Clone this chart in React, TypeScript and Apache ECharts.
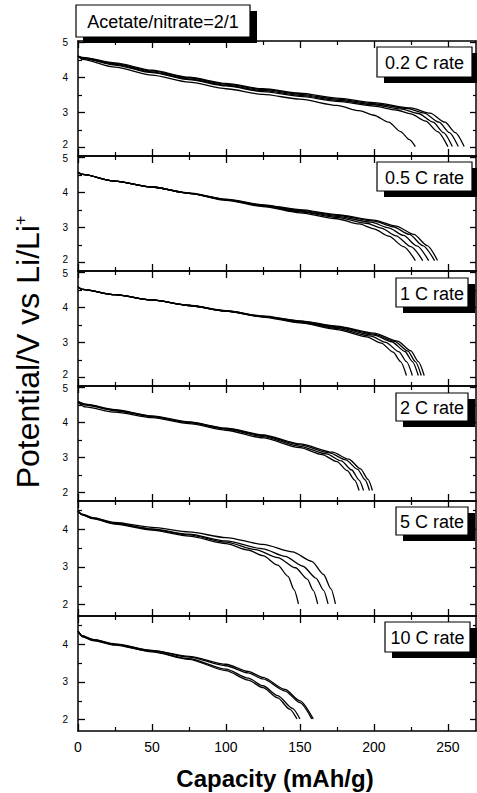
import { useEffect, useRef } from 'react';
import * as echarts from 'echarts';

// ---- tick values ----
const xMajor = [0, 50, 100, 150, 200, 250];
const xMinor = [25, 75, 125, 175, 225];
const yMajorHigh = [2, 3, 4, 5];
const yMajorLow = [2, 3, 4];
const yMinor = [2.5, 3.5, 4.5];

// ---- panel labels and ranges ----
const rateLabels = ['0.2 C rate', '0.5 C rate', '1 C rate', '2 C rate', '5 C rate', '10 C rate'];
const yMins = [1.75, 1.75, 1.75, 1.75, 1.7, 1.7];
const yMaxs = [5.05, 5.05, 5.05, 5.05, 4.75, 4.75];

// ---- 0.2 C ----
const r02_1 = [[0, 4.62], [3, 4.52], [25, 4.30], [50, 4.07], [75, 3.87], [100, 3.68], [125, 3.52], [150, 3.38], [175, 3.20], [190, 3.05], [200, 2.92], [210, 2.72], [218, 2.45], [224, 2.22], [228, 2.02]];
const r02_2 = [[0, 4.62], [3, 4.55], [25, 4.36], [50, 4.14], [75, 3.94], [100, 3.76], [125, 3.60], [150, 3.46], [175, 3.32], [200, 3.18], [215, 3.07], [225, 2.96], [235, 2.75], [243, 2.45], [250, 2.02]];
const r02_3 = [[0, 4.62], [3, 4.56], [25, 4.38], [50, 4.16], [75, 3.96], [100, 3.78], [125, 3.63], [150, 3.49], [175, 3.35], [200, 3.22], [218, 3.10], [230, 2.97], [240, 2.72], [247, 2.42], [253, 2.02]];
const r02_4 = [[0, 4.62], [3, 4.57], [25, 4.40], [50, 4.19], [75, 3.99], [100, 3.81], [125, 3.66], [150, 3.52], [175, 3.38], [200, 3.25], [222, 3.12], [234, 2.98], [244, 2.72], [251, 2.42], [257, 2.02]];
const r02_5 = [[0, 4.62], [3, 4.58], [25, 4.42], [50, 4.21], [75, 4.01], [100, 3.83], [125, 3.68], [150, 3.55], [175, 3.41], [200, 3.28], [225, 3.13], [238, 2.98], [248, 2.72], [255, 2.42], [261, 2.02]];

// ---- 0.5 C ----
const r05_1 = [[0, 4.58], [3, 4.52], [25, 4.33], [50, 4.16], [75, 3.98], [100, 3.78], [125, 3.60], [150, 3.42], [175, 3.25], [190, 3.10], [200, 2.96], [210, 2.75], [220, 2.45], [228, 2.05]];
const r05_2 = [[0, 4.58], [3, 4.52], [25, 4.33], [50, 4.16], [75, 3.98], [100, 3.79], [125, 3.62], [150, 3.45], [175, 3.29], [195, 3.12], [205, 2.98], [215, 2.76], [225, 2.45], [233, 2.05]];
const r05_3 = [[0, 4.58], [3, 4.52], [25, 4.33], [50, 4.16], [75, 3.98], [100, 3.80], [125, 3.63], [150, 3.47], [175, 3.32], [198, 3.15], [210, 2.99], [220, 2.77], [229, 2.47], [237, 2.05]];
const r05_4 = [[0, 4.58], [3, 4.52], [25, 4.33], [50, 4.16], [75, 3.98], [100, 3.80], [125, 3.64], [150, 3.49], [175, 3.35], [200, 3.18], [213, 3.02], [224, 2.80], [233, 2.48], [241, 2.05]];
const r05_5 = [[0, 4.58], [3, 4.52], [25, 4.33], [50, 4.16], [75, 3.99], [100, 3.81], [125, 3.65], [150, 3.51], [175, 3.37], [200, 3.21], [215, 3.04], [227, 2.80], [236, 2.48], [243, 2.05]];

// ---- 1 C ----
const r1_1 = [[0, 4.60], [3, 4.52], [25, 4.37], [50, 4.22], [75, 4.06], [100, 3.90], [125, 3.73], [150, 3.56], [175, 3.37], [195, 3.16], [205, 2.98], [213, 2.72], [218, 2.45], [222, 2.05]];
const r1_2 = [[0, 4.60], [3, 4.52], [25, 4.37], [50, 4.22], [75, 4.06], [100, 3.90], [125, 3.74], [150, 3.58], [175, 3.40], [198, 3.18], [208, 3.00], [217, 2.73], [222, 2.45], [226, 2.05]];
const r1_3 = [[0, 4.60], [3, 4.52], [25, 4.37], [50, 4.22], [75, 4.06], [100, 3.90], [125, 3.74], [150, 3.60], [175, 3.43], [200, 3.21], [212, 3.02], [221, 2.74], [226, 2.45], [230, 2.05]];
const r1_4 = [[0, 4.60], [3, 4.52], [25, 4.37], [50, 4.22], [75, 4.06], [100, 3.91], [125, 3.75], [150, 3.61], [175, 3.45], [200, 3.24], [214, 3.03], [223, 2.75], [228, 2.45], [232, 2.05]];
const r1_5 = [[0, 4.60], [3, 4.52], [25, 4.37], [50, 4.22], [75, 4.07], [100, 3.91], [125, 3.76], [150, 3.62], [175, 3.47], [200, 3.27], [216, 3.04], [225, 2.76], [230, 2.45], [234, 2.05]];

// ---- 2 C ----
const r2_1 = [[0, 4.58], [5, 4.45], [25, 4.30], [50, 4.14], [75, 3.97], [100, 3.78], [125, 3.56], [150, 3.28], [165, 3.08], [175, 2.88], [182, 2.62], [187, 2.35], [190, 2.05]];
const r2_2 = [[0, 4.60], [5, 4.50], [25, 4.34], [50, 4.17], [75, 4.00], [100, 3.81], [125, 3.60], [150, 3.32], [168, 3.10], [178, 2.90], [185, 2.64], [190, 2.35], [193, 2.05]];
const r2_3 = [[0, 4.60], [5, 4.52], [25, 4.36], [50, 4.18], [75, 4.01], [100, 3.83], [125, 3.63], [150, 3.36], [170, 3.13], [181, 2.93], [189, 2.66], [194, 2.36], [197, 2.05]];
const r2_4 = [[0, 4.61], [5, 4.53], [25, 4.37], [50, 4.19], [75, 4.02], [100, 3.84], [125, 3.65], [150, 3.39], [172, 3.15], [183, 2.95], [191, 2.67], [196, 2.37], [199, 2.05]];

// ---- 5 C ----
const r5_1 = [[0, 4.48], [3, 4.38], [10, 4.28], [25, 4.14], [50, 3.98], [75, 3.82], [100, 3.62], [115, 3.45], [125, 3.30], [135, 3.05], [142, 2.75], [146, 2.40], [149, 2.02]];
const r5_2 = [[0, 4.48], [3, 4.38], [10, 4.29], [25, 4.15], [50, 4.00], [75, 3.85], [100, 3.66], [120, 3.46], [135, 3.25], [147, 2.98], [155, 2.68], [159, 2.38], [162, 2.02]];
const r5_3 = [[0, 4.48], [3, 4.39], [10, 4.30], [25, 4.16], [50, 4.01], [75, 3.87], [100, 3.69], [125, 3.48], [140, 3.28], [152, 3.02], [161, 2.70], [166, 2.38], [169, 2.02]];
const r5_4 = [[0, 4.48], [3, 4.40], [10, 4.31], [25, 4.18], [50, 4.05], [75, 3.93], [100, 3.78], [125, 3.60], [145, 3.40], [158, 3.15], [166, 2.80], [171, 2.42], [174, 2.02]];

// ---- 10 C ----
const r10_1 = [[0, 4.35], [3, 4.20], [10, 4.10], [25, 3.98], [50, 3.80], [75, 3.60], [100, 3.30], [115, 3.05], [125, 2.85], [135, 2.58], [143, 2.28], [148, 2.02]];
const r10_2 = [[0, 4.35], [3, 4.21], [10, 4.11], [25, 3.99], [50, 3.81], [75, 3.62], [100, 3.34], [115, 3.10], [125, 2.90], [135, 2.64], [145, 2.30], [150, 2.02]];
const r10_3 = [[0, 4.35], [3, 4.22], [10, 4.12], [25, 4.00], [50, 3.83], [75, 3.66], [100, 3.43], [115, 3.24], [125, 3.08], [140, 2.76], [150, 2.45], [158, 2.02]];
const r10_4 = [[0, 4.35], [3, 4.23], [10, 4.13], [25, 4.01], [50, 3.84], [75, 3.68], [100, 3.47], [115, 3.28], [125, 3.12], [140, 2.80], [150, 2.50], [159, 2.02]];

const panelCurves = [
  [r02_1, r02_2, r02_3, r02_4, r02_5],
  [r05_1, r05_2, r05_3, r05_4, r05_5],
  [r1_1, r1_2, r1_3, r1_4, r1_5],
  [r2_1, r2_2, r2_3, r2_4],
  [r5_1, r5_2, r5_3, r5_4],
  [r10_1, r10_2, r10_3, r10_4],
];

const FONT = '"Liberation Sans", Arial, sans-serif';

export default function App() {
  const ref = useRef<HTMLDivElement>(null);

  useEffect(() => {
    if (!ref.current) return;
    const chart = echarts.init(ref.current, null, { renderer: 'svg' });

    const gridTop = 41;
    const gridH = 115;
    const gridLeft = 78;
    const gridRight = 1;
    const axisLineStyle = { color: '#000', width: 1.5 };

    const grids: any[] = [];
    const xAxes: any[] = [];
    const yAxes: any[] = [];
    const series: any[] = [];

    for (let i = 0; i < 6; i++) {
      grids.push({
        left: gridLeft,
        right: gridRight,
        top: gridTop + i * gridH,
        height: gridH,
        containLabel: false,
        outerBoundsMode: 'none',
      });
      const isBottom = i === 5;
      const xBase = {
        gridIndex: i,
        type: 'value',
        min: 0,
        max: 269,
        splitLine: { show: false },
      };
      xAxes.push({
        ...xBase,
        position: 'bottom',
        axisLine: { show: true, onZero: false, lineStyle: axisLineStyle },
        axisTick: { show: true, inside: true, length: 7, customValues: xMajor, lineStyle: { color: '#000', width: 1.3 } },
        axisLabel: {
          show: isBottom,
          customValues: xMajor,
          color: '#000',
          fontSize: 14,
          fontFamily: FONT,
          margin: 9,
        },
      });
      xAxes.push({
        ...xBase,
        position: 'bottom',
        axisLine: { show: false, onZero: false },
        axisTick: { show: true, inside: true, length: 4, customValues: xMinor, lineStyle: { color: '#000', width: 1.2 } },
        axisLabel: { show: false },
      });
      xAxes.push({
        ...xBase,
        position: 'top',
        axisLine: { show: true, onZero: false, lineStyle: axisLineStyle },
        axisTick: { show: true, inside: true, length: 7, customValues: xMajor, lineStyle: { color: '#000', width: 1.3 } },
        axisLabel: { show: false },
      });
      xAxes.push({
        ...xBase,
        position: 'top',
        axisLine: { show: false, onZero: false },
        axisTick: { show: true, inside: true, length: 4, customValues: xMinor, lineStyle: { color: '#000', width: 1.2 } },
        axisLabel: { show: false },
      });

      const yBase = {
        gridIndex: i,
        type: 'value',
        min: yMins[i],
        max: yMaxs[i],
        splitLine: { show: false },
      };
      const majors = i < 4 ? yMajorHigh : yMajorLow;
      const hasPanelBelowWith5 = i < 3;
      const hasPanelAbove = i > 0;
      yAxes.push({
        ...yBase,
        position: 'left',
        axisLine: { show: true, onZero: false, lineStyle: axisLineStyle },
        axisTick: { show: true, inside: true, length: 7, customValues: majors, lineStyle: { color: '#000', width: 1.3 } },
        axisLabel: {
          show: true,
          customValues: majors,
          color: '#000',
          fontSize: 10,
          fontFamily: FONT,
          margin: 10,
          formatter: (v: number) => {
            if (v === 2 && hasPanelBelowWith5) return `{lo|${v}}`;
            if (v === 5 && hasPanelAbove) return `{hi|${v}}`;
            return `{n|${v}}`;
          },
          rich: {
            n: { fontSize: 10, fontFamily: FONT, color: '#000' },
            lo: { fontSize: 10, fontFamily: FONT, color: '#000', padding: [0, 0, 6, 0] },
            hi: { fontSize: 10, fontFamily: FONT, color: '#000', padding: [2, 0, 0, 0] },
          },
        },
      });
      yAxes.push({
        ...yBase,
        position: 'left',
        axisLine: { show: false, onZero: false },
        axisTick: { show: true, inside: true, length: 4, customValues: yMinor, lineStyle: { color: '#000', width: 1.2 } },
        axisLabel: { show: false },
      });
      yAxes.push({
        ...yBase,
        position: 'right',
        axisLine: { show: true, onZero: false, lineStyle: axisLineStyle },
        axisTick: { show: true, inside: true, length: 6, customValues: majors, lineStyle: { color: '#000', width: 1.3 } },
        axisLabel: { show: false },
      });
      yAxes.push({
        ...yBase,
        position: 'right',
        axisLine: { show: false, onZero: false },
        axisTick: { show: true, inside: true, length: 3, customValues: yMinor, lineStyle: { color: '#000', width: 1.2 } },
        axisLabel: { show: false },
      });

      panelCurves[i].forEach((curve, k) => {
        series.push({
          name: `${rateLabels[i]} #${k + 1}`,
          type: 'line',
          xAxisIndex: i * 4,
          yAxisIndex: i * 4,
          data: curve,
          showSymbol: false,
          symbol: 'none',
          smooth: 0.25,
          smoothMonotone: 'x',
          lineStyle: { color: '#000', width: 1.3 },
          silent: true,
        });
      });
    }

    // label boxes: [x, y, w, h]
    const boxGeom = [
      [377, 47, 95, 30],
      [377, 162, 95, 29],
      [396, 278, 72, 29],
      [396, 393, 72, 28],
      [396, 507, 72, 28],
      [385, 622, 85, 30],
    ];

    const graphics: any[] = [];
    const makeBox = (x: number, y: number, w: number, h: number, text: string) => {
      graphics.push({
        type: 'rect',
        shape: { x: x + 7, y: y + 6, width: w, height: h },
        style: { fill: '#000' },
        z: 100,
      });
      graphics.push({
        type: 'rect',
        shape: { x, y, width: w, height: h },
        style: { fill: '#fff', stroke: '#000', lineWidth: 1.2 },
        z: 101,
      });
      graphics.push({
        type: 'text',
        x: x + w / 2,
        y: y + h / 2 + 1,
        style: {
          text,
          fill: '#000',
          fontSize: 18,
          fontFamily: FONT,
          align: 'center',
          verticalAlign: 'middle',
          textAlign: 'center',
          textVerticalAlign: 'middle',
        },
        z: 102,
      });
    };

    makeBox(76, 5, 174, 32, 'Acetate/nitrate=2/1');
    rateLabels.forEach((label, i) => {
      const [x, y, w, h] = boxGeom[i];
      makeBox(x, y, w, h, label);
    });

    // y-axis title
    graphics.push({
      type: 'text',
      x: 28,
      y: 352,
      rotation: Math.PI / 2,
      style: {
        text: '{a|Potential/V vs Li/Li}{b|+}',
        fill: '#000',
        align: 'center',
        verticalAlign: 'middle',
        textAlign: 'center',
        textVerticalAlign: 'middle',
        rich: {
          a: { fontSize: 32, fontFamily: FONT, fill: '#000', color: '#000' },
          b: { fontSize: 16, fontFamily: FONT, fill: '#000', color: '#000', verticalAlign: 'top' },
        },
      },
      z: 100,
    });

    // x-axis title
    graphics.push({
      type: 'text',
      x: 275,
      y: 778,
      style: {
        text: 'Capacity (mAh/g)',
        fill: '#000',
        fontSize: 24,
        fontWeight: 'bold',
        fontFamily: FONT,
        align: 'center',
        verticalAlign: 'middle',
        textAlign: 'center',
        textVerticalAlign: 'middle',
      },
      z: 100,
    });

    chart.setOption({
      animation: false,
      backgroundColor: '#fff',
      grid: grids,
      xAxis: xAxes,
      yAxis: yAxes,
      series,
      graphic: { elements: graphics },
    });

    return () => {
      chart.dispose();
    };
  }, []);

  return (
    <div
      ref={ref}
      style={{ position: 'fixed', left: 0, top: 0, width: 477, height: 793, background: '#fff' }}
    />
  );
}
